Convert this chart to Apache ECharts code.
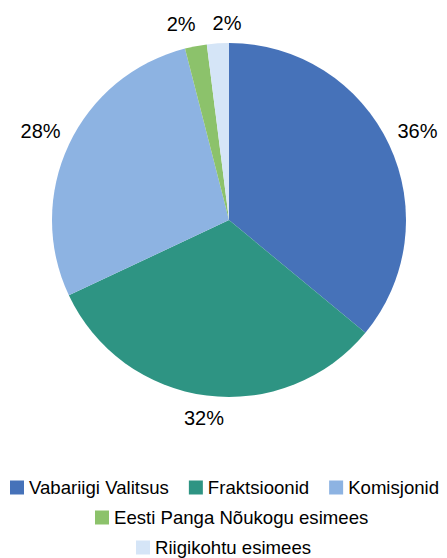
<!DOCTYPE html>
<html>
<head>
<meta charset="utf-8">
<script src="https://cdn.jsdelivr.net/npm/echarts@6/dist/echarts.min.js"></script>
<style>
  html, body { margin: 0; padding: 0; background: #fff; }
  #chart { width: 447px; height: 558px; }
</style>
</head>
<body>
<div id="chart"></div>
<script>
// andmed
const categories = ['Vabariigi Valitsus', 'Fraktsioonid', 'Komisjonid', 'Eesti Panga Nõukogu esimees', 'Riigikohtu esimees'];
const values = [36, 32, 28, 2, 2];
const colors = ['#4672B9', '#2E9483', '#8DB3E2', '#8CC26B', '#D5E5F7'];

const CX = 229, CY = 220, R = 177;
const LABEL_FONT = '20px Arial';
const LABEL_H = 24;
const total = values.reduce((a, b) => a + b, 0);

// sildi laius
const ctx = document.createElement('canvas').getContext('2d');
ctx.font = LABEL_FONT;
const textW = s => ctx.measureText(s).width;

// sildid lõigu keskjoonele, väikeste lõikude puhul lükatakse üksteisest lahku
function labelPositions() {
  let acc = 0;
  const pos = values.map(v => {
    const mid = (acc + v / 2) / total * 2 * Math.PI;
    acc += v;
    const dx = Math.sin(mid), dy = -Math.cos(mid);
    const w = textW(v + '%');
    const d = R + 8 + w / 2 * Math.abs(dx) + LABEL_H / 2 * Math.abs(dy);
    return {x: CX + dx * d, y: CY + dy * d, w: w};
  });
  for (let i = 0; i < pos.length; i++) {
    for (let j = i + 1; j < pos.length; j++) {
      const a = pos[i], b = pos[j];
      const need = (a.w + b.w) / 2 + 17;
      if (Math.abs(a.y - b.y) < LABEL_H && Math.abs(a.x - b.x) < need) {
        const push = (need - Math.abs(a.x - b.x)) / 2;
        const s = a.x < b.x ? 1 : -1;
        a.x -= s * push;
        b.x += s * push;
      }
    }
  }
  return pos;
}
const labelPos = labelPositions();

let chart = echarts.init(document.getElementById('chart'), null, {renderer: 'svg'});

const legendBase = {
  orient: 'horizontal',
  icon: 'rect',
  padding: 0,
  itemWidth: 14,
  itemHeight: 14,
  itemGap: 20,
  textStyle: {fontFamily: 'Arial', fontSize: 18.6, color: '#000'},
  selectedMode: false
};

chart.setOption({
  animation: false,
  color: colors,
  legend: [
    Object.assign({}, legendBase, {top: 478, left: 10, width: 600, data: categories.slice(0, 3)}),
    Object.assign({}, legendBase, {top: 508, left: 95, width: 600, data: categories.slice(3, 4)}),
    Object.assign({}, legendBase, {top: 538, left: 136, width: 600, data: categories.slice(4)})
  ],
  series: [{
    type: 'pie',
    center: [CX, CY],
    radius: R,
    startAngle: 90,
    clockwise: true,
    avoidLabelOverlap: false,
    data: categories.map((c, i) => ({name: c, value: values[i]})),
    itemStyle: {borderWidth: 0},
    label: {
      show: true,
      position: 'outside',
      overflow: 'none',
      formatter: p => p.value + '%',
      fontFamily: 'Arial',
      fontSize: 20,
      color: '#000'
    },
    labelLine: {show: false, length: 10, length2: 0},
    labelLayout: function (p) {
      const lp = labelPos[p.dataIndex];
      return {x: lp.x, y: lp.y, align: 'center', verticalAlign: 'middle'};
    },
    emphasis: {disabled: true}
  }]
});
</script>
</body>
</html>
